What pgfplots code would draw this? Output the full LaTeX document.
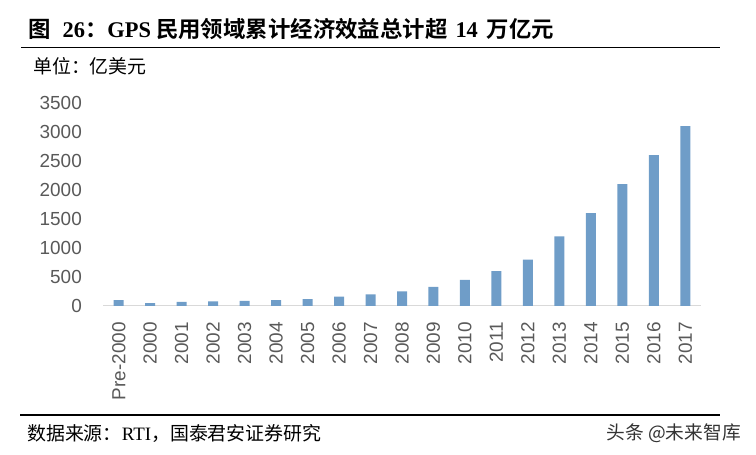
\documentclass[border=0pt]{standalone}
\usepackage{fontspec}
\usepackage{pgfplots}
\pgfplotsset{compat=1.18}
\setmainfont{Liberation Serif}
\newfontfamily\cjk{Noto Sans CJK SC}
\newfontfamily\cjkb{Noto Sans CJK SC Bold}
\newfontfamily\lsans{Liberation Sans}
\definecolor{barblue}{RGB}{111,157,200}
\definecolor{ticktext}{RGB}{89,89,89}
\definecolor{baseln}{RGB}{217,217,217}

\begin{document}
\begin{tikzpicture}
\path[use as bounding box] (0bp,0bp) rectangle (756bp,455bp);

% title and rules
\node[anchor=base west, inner sep=0pt] at (28bp,417bp)
  {\fontsize{22.5}{22.5}\selectfont\cjkb 图\hspace{12bp}{\bfseries\rmfamily 26}：{\bfseries\rmfamily GPS} 民用领域累计经济效益总计超\hspace{8bp}{\bfseries\rmfamily 14}\hspace{9bp}万亿元};
\draw[line width=1.6bp] (21bp,407.3bp) -- (720bp,407.3bp);
\node[anchor=base west, inner sep=0pt] at (33bp,381bp)
  {\fontsize{19}{19}\selectfont\cjk 单位：亿美元};

\draw[line width=1.6bp] (20bp,40bp) -- (720bp,40bp);
\node[anchor=base west, inner sep=0pt] at (27bp,15bp)
  {\fontsize{19}{19}\selectfont\cjk 数据来源：{\rmfamily RTI}，国泰君安证券研究};
\node[anchor=base east, inner sep=0pt, text=black!80] at (741bp,16bp)
  {\fontsize{18.8}{18.8}\selectfont\cjk 头条 @未来智库};

\begin{axis}[
    at={(103bp,149bp)}, anchor=south west,
    scale only axis,
    width=598bp, height=203bp,
    ymin=0, ymax=3500,
    xmin=-0.5, xmax=18.5,
    ytick={0,500,...,3500},
    xtick={0,...,18},
    xticklabels={Pre-2000,2000,2001,2002,2003,2004,2005,2006,2007,2008,2009,2010,2011,2012,2013,2014,2015,2016,2017},
    axis x line*=bottom,
    axis y line*=left,
    y axis line style={draw=none},
    x axis line style={baseln, line width=1bp, -},
    major tick length=0pt,
    /pgf/number format/assume math mode=true,
    /pgf/number format/set thousands separator={},
    ticklabel style={font=\fontsize{19}{19}\selectfont\lsans, text=ticktext},
    yticklabel style={inner sep=0pt, anchor=east, xshift=-21bp},
    xticklabel style={rotate=90, anchor=east, inner sep=0pt, xshift=-16bp},
]
\addplot[ybar, bar width=10bp, fill=barblue, draw=none] coordinates {
(0,100) (1,50) (2,70) (3,80) (4,90) (5,100) (6,120) (7,160) (8,200) (9,250)
(10,330) (11,450) (12,600) (13,800) (14,1200) (15,1600) (16,2100) (17,2600) (18,3100)
};
\end{axis}
\end{tikzpicture}
\end{document}
